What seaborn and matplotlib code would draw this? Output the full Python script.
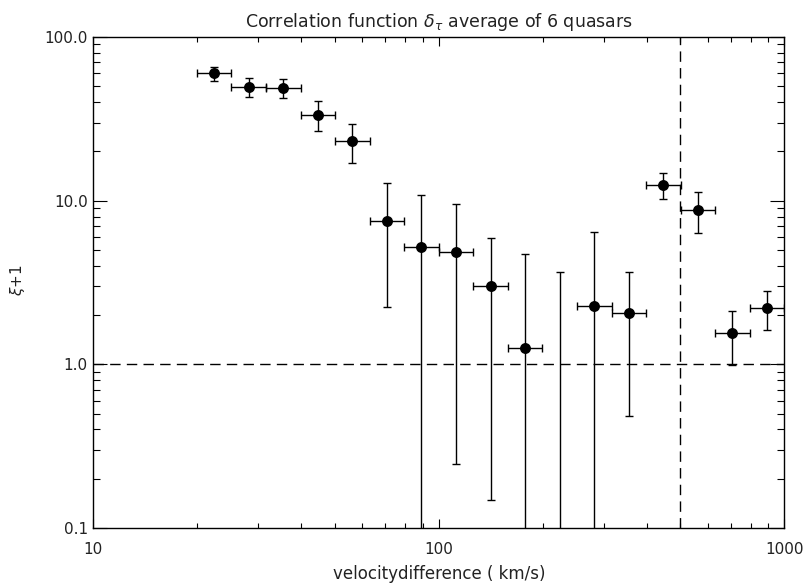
import numpy as np
import pandas as pd
import matplotlib
matplotlib.use("Agg")
import matplotlib.pyplot as plt
import seaborn as sns
from matplotlib.ticker import FixedLocator, FixedFormatter, LogLocator, NullFormatter

# Bin centres and bin edges of the velocity difference (km/s)
velocity = [22.4, 28.2, 35.5, 44.7, 56.2, 70.8, 89.1, 112.2, 141.3, 177.8,
            223.9, 281.8, 354.8, 446.7, 562.3, 707.9, 891.3]
vel_lo = [20.0, 25.1, 31.6, 39.8, 50.1, 63.1, 79.4, 100.0, 125.9, 158.5,
          199.5, 251.2, 316.2, 398.1, 501.2, 631.0, 794.3]
vel_hi = [25.1, 31.6, 39.8, 50.1, 63.1, 79.4, 100.0, 125.9, 158.5, 199.5,
          251.2, 316.2, 398.1, 501.2, 631.0, 794.3, 1000.0]

# Correlation xi+1 with lower / upper error limits (NaN = not positive)
xi1 = [60.1, 49.5, 48.9, 33.6, 23.3, 7.5, 5.21, 4.88, 3.02, 1.25,
       np.nan, 2.27, 2.06, 12.5, 8.81, 1.55, 2.22]
xi1_lo = [53.7, 42.9, 42.2, 26.7, 17.1, 2.24, 0.01, 0.247, 0.149, 0.01,
          0.01, 0.01, 0.483, 10.2, 6.35, 0.986, 1.61]
xi1_hi = [65.9, 56.5, 55.2, 40.7, 29.4, 12.8, 10.8, 9.51, 5.89, 4.74,
          3.68, 6.47, 3.65, 14.8, 11.3, 2.13, 2.82]

x_ticks = [10, 100, 1000]
x_ticklabels = ["10", "100", "1000"]
y_ticks = [0.1, 1, 10, 100]
y_ticklabels = ["0.1", "1.0", "10.0", "100.0"]

df = pd.DataFrame({"v": velocity, "v_lo": vel_lo, "v_hi": vel_hi,
                   "xi": xi1, "xi_lo": xi1_lo, "xi_hi": xi1_hi})

sns.set_style("ticks")
plt.rcParams["font.family"] = ["DejaVu Sans"]
plt.rcParams["mathtext.fontset"] = "dejavusans"

fig = plt.figure(figsize=(8.1, 5.85), dpi=100)
ax = fig.add_axes([93.3 / 810, 57 / 585, 691 / 810, 491 / 585])
ax.set_xscale("log")
ax.set_yscale("log")
ax.set_xlim(10, 1000)
ax.set_ylim(0.1, 100)

lw = 1.0
cap_ms = 5.8
# vertical error bars (drawn for every bin, including ones without a point)
ax.vlines(df["v"], df["xi_lo"], df["xi_hi"], color="black", lw=lw)
ax.plot(df["v"], df["xi_hi"], ls="none", marker="_", ms=cap_ms,
        mew=lw, color="black")
ax.plot(df["v"], df["xi_lo"], ls="none", marker="_", ms=cap_ms,
        mew=lw, color="black")

# horizontal bin-width bars for bins with a value
has = df.dropna(subset=["xi"])
ax.hlines(has["xi"], has["v_lo"], has["v_hi"], color="black", lw=lw)
ax.plot(has["v_lo"], has["xi"], ls="none", marker="|", ms=cap_ms,
        mew=lw, color="black")
ax.plot(has["v_hi"], has["xi"], ls="none", marker="|", ms=cap_ms,
        mew=lw, color="black")

sns.scatterplot(data=has, x="v", y="xi", ax=ax, color="black", s=62,
                edgecolor="black", linewidth=0, zorder=5, legend=False)

ax.axhline(1.0, color="black", ls=(0, (7.5, 4.5)), lw=1.0)
ax.axvline(500, color="black", ls=(0, (7.5, 4.5)), lw=1.0)

for side in ["top", "right", "left", "bottom"]:
    ax.spines[side].set_visible(True)
    ax.spines[side].set_linewidth(1.0)
    ax.spines[side].set_color("black")

ax.xaxis.set_major_locator(FixedLocator(x_ticks))
ax.xaxis.set_major_formatter(FixedFormatter(x_ticklabels))
ax.xaxis.set_minor_locator(LogLocator(base=10, subs=np.arange(2, 10)))
ax.xaxis.set_minor_formatter(NullFormatter())
ax.yaxis.set_major_locator(FixedLocator(y_ticks))
ax.yaxis.set_major_formatter(FixedFormatter(y_ticklabels))
ax.yaxis.set_minor_locator(LogLocator(base=10, subs=np.arange(2, 10)))
ax.yaxis.set_minor_formatter(NullFormatter())

ax.tick_params(axis="both", which="both", direction="in", top=True, right=True,
               color="black", width=0.8, labelsize=11, labelcolor="#222222")
ax.tick_params(axis="x", which="major", length=6.5, pad=10)
ax.tick_params(axis="x", which="minor", length=3.5)
ax.tick_params(axis="y", which="major", length=10, pad=4)
ax.tick_params(axis="y", which="minor", length=5)

ax.set_xlabel("velocitydifference ( km/s)", fontsize=12, color="#222222",
              labelpad=6)
ax.set_ylabel(r"$\xi$+1", fontsize=11, color="#222222")
ax.yaxis.set_label_coords(-(93.3 - 27) / 691, 0.505)
ax.set_title(r"Correlation function $\boldsymbol{\delta_\tau}$ average of 6 quasars",
             fontsize=12.5, color="#222222", pad=7)

fig.savefig("out.png", dpi=100)
